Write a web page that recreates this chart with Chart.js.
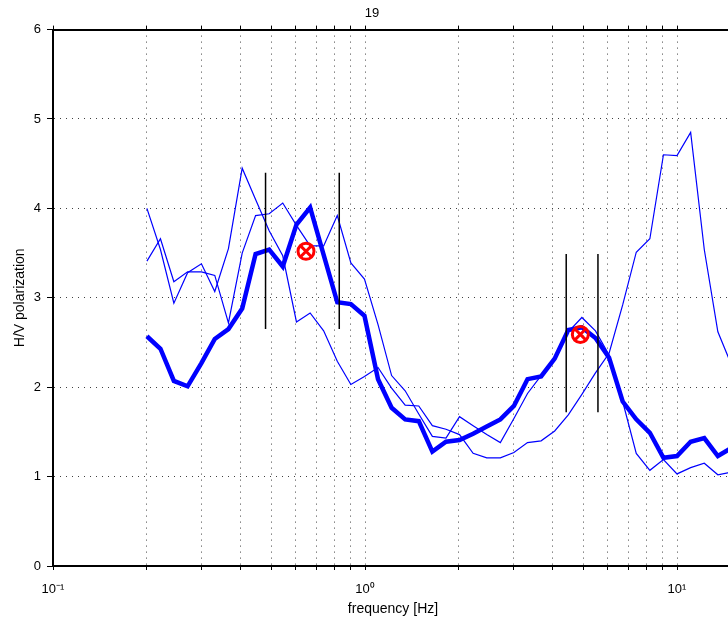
<!DOCTYPE html>
<html>
<head>
<meta charset="utf-8">
<script src="https://cdn.jsdelivr.net/npm/chart.js@4.4.1/dist/chart.umd.min.js"></script>
<style>
    html, body { margin: 0; background: #fff; overflow: hidden; }
    #hv-chart { display: block; }
</style>
</head>
<body>
<!-- the original figure is wider than the window and gets cut on the right -->
<canvas id="hv-chart" width="744" height="624"></canvas>
<script>
    // frequencies of the spectral estimates [Hz]
    var freqs = [0.200, 0.221, 0.244, 0.270, 0.299, 0.330, 0.365, 0.404, 0.446, 0.493,
        0.545, 0.603, 0.667, 0.737, 0.815, 0.901, 0.996, 1.101, 1.217, 1.345,
        1.487, 1.644, 1.818, 2.009, 2.221, 2.456, 2.715, 3.001, 3.318, 3.668,
        4.055, 4.483, 4.956, 5.479, 6.058, 6.697, 7.403, 8.185, 9.048, 10.00,
        11.06, 12.23, 13.52, 14.94];

    // mean H/V curve (thick)
    var hvMean = [2.57, 2.43, 2.07, 2.01, 2.27, 2.54, 2.65, 2.88, 3.49, 3.54,
        3.35, 3.82, 4.01, 3.48, 2.95, 2.93, 2.80, 2.09, 1.77, 1.64,
        1.62, 1.28, 1.39, 1.41, 1.48, 1.56, 1.64, 1.79, 2.09, 2.12,
        2.32, 2.64, 2.67, 2.55, 2.33, 1.84, 1.64, 1.49, 1.21, 1.23,
        1.39, 1.43, 1.23, 1.32];

    // single component curves (thin)
    var hvCompA = [4.00, 3.54, 2.94, 3.28, 3.38, 3.07, 3.55, 4.45, 4.10, 3.75,
        3.47, 2.73, 2.83, 2.63, 2.29, 2.03, 2.12, 2.22, 1.99, 1.80,
        1.79, 1.57, 1.53, 1.47, 1.26, 1.21, 1.21, 1.27, 1.38, 1.40,
        1.51, 1.69, 1.92, 2.16, 2.38, 2.92, 3.51, 3.66, 4.60, 4.59,
        4.85, 3.54, 2.62, 2.25];
    var hvCompB = [3.41, 3.66, 3.18, 3.29, 3.29, 3.25, 2.72, 3.50, 3.92, 3.94,
        4.06, 3.81, 3.58, 3.58, 3.92, 3.39, 3.21, 2.70, 2.13, 1.96,
        1.70, 1.45, 1.43, 1.67, 1.57, 1.47, 1.38, 1.65, 1.93, 2.13,
        2.33, 2.62, 2.78, 2.63, 2.36, 1.84, 1.26, 1.07, 1.19, 1.03,
        1.10, 1.15, 1.02, 1.05];

    // peak picks and their frequency limits
    var peakFreqs = [0.647, 4.90];
    var peakAmps = [3.52, 2.59];
    var limitFreqs = [0.48, 0.827, 4.415, 5.58];
    var limitLow = [2.65, 2.65, 1.72, 1.72];
    var limitHigh = [4.40, 4.40, 3.49, 3.49];

    var xTicks = [0.1, 0.2, 0.3, 0.4, 0.5, 0.6, 0.7, 0.8, 0.9,
        1, 2, 3, 4, 5, 6, 7, 8, 9, 10];
    var xTickLabels = { '0.1': '10\u207B\u00B9', '1': '10\u2070', '10': '10\u00B9' };
    var yTicks = [0, 1, 2, 3, 4, 5, 6];

    var PX_PER_DECADE = 312;

    function toXY(xs, ys) {
        return xs.map(function (x, i) { return { x: x, y: ys[i] }; });
    }

    var datasets = [
        {
            label: 'mean',
            data: toXY(freqs, hvMean),
            borderColor: '#0000ff',
            borderWidth: 4.5,
            pointRadius: 0,
            tension: 0,
            order: 2,
        },
        {
            label: 'A',
            data: toXY(freqs, hvCompA),
            borderColor: '#0000ff',
            borderWidth: 1.2,
            pointRadius: 0,
            tension: 0,
            order: 3,
        },
        {
            label: 'B',
            data: toXY(freqs, hvCompB),
            borderColor: '#0000ff',
            borderWidth: 1.2,
            pointRadius: 0,
            tension: 0,
            order: 3,
        },
    ];

    limitFreqs.forEach(function (f, i) {
        datasets.push({
            label: 'limit' + i,
            data: [{ x: f, y: limitLow[i] }, { x: f, y: limitHigh[i] }],
            borderColor: '#000000',
            borderWidth: 1.5,
            pointRadius: 0,
            order: 1,
        });
    });

    datasets.push({
        label: 'peak',
        data: toXY(peakFreqs, peakAmps),
        showLine: false,
        pointStyle: 'circle',
        pointRadius: 8,
        borderColor: '#ff0000',
        backgroundColor: 'rgba(0,0,0,0)',
        pointBorderWidth: 3,
        order: 0,
    });
    datasets.push({
        label: 'peakX',
        data: toXY(peakFreqs, peakAmps),
        showLine: false,
        pointStyle: 'crossRot',
        pointRadius: 8,
        borderColor: '#ff0000',
        pointBorderWidth: 3,
        order: 0,
    });

    var font = { family: "'Liberation Sans', Arial, sans-serif", size: 13 };

    function setLogTicks(scale) {
        scale.ticks = xTicks.map(function (v) { return { value: v }; });
    }

    var ctx = document.getElementById('hv-chart').getContext('2d');
    var chart = new Chart(ctx, {
        type: 'line',
        data: { datasets: datasets },
        options: {
            responsive: false,
            animation: false,
            devicePixelRatio: 1,
            layout: { padding: 0 },
            plugins: {
                legend: { display: false },
                tooltip: { enabled: false },
                title: {
                    display: true,
                    text: '19',
                    color: '#000',
                    font: { family: font.family, size: 13, weight: 'normal' },
                    padding: { top: 6, bottom: 4 },
                },
            },
            scales: {
                x: {
                    type: 'logarithmic',
                    position: 'bottom',
                    min: 0.1,
                    max: 15,
                    afterBuildTicks: setLogTicks,
                    afterFit: function (scale) { scale.height = 58; },
                    border: { display: true, color: '#000', width: 2, dash: [1, 5] },
                    grid: {
                        color: 'rgba(0,0,0,0.75)',
                        lineWidth: 1,
                        drawTicks: true,
                        tickLength: 4,
                        tickColor: '#000',
                        tickBorderDash: [],
                    },
                    ticks: {
                        autoSkip: false,
                        maxRotation: 0,
                        padding: 12,
                        color: '#000',
                        font: font,
                        callback: function (value) {
                            return xTickLabels[String(value)] || '';
                        },
                    },
                    title: {
                        display: true,
                        text: 'frequency [Hz]',
                        color: '#000',
                        font: { family: font.family, size: 14 },
                        padding: 6,
                    },
                },
                x2: {
                    type: 'logarithmic',
                    position: 'top',
                    min: 0.1,
                    max: 15,
                    afterBuildTicks: setLogTicks,
                    afterFit: function (scale) { scale.height = 4; },
                    border: { display: true, color: '#000', width: 2 },
                    grid: {
                        drawOnChartArea: false,
                        drawTicks: true,
                        tickLength: 4,
                        tickColor: '#000',
                    },
                    ticks: {
                        autoSkip: false,
                        maxRotation: 0,
                        callback: function () { return ''; },
                    },
                },
                y: {
                    type: 'linear',
                    position: 'left',
                    min: 0,
                    max: 6,
                    afterBuildTicks: function (scale) {
                        scale.ticks = yTicks.map(function (v) { return { value: v }; });
                    },
                    afterFit: function (scale) { scale.width = 53; },
                    border: { display: true, color: '#000', width: 2, dash: [1, 5] },
                    grid: {
                        color: function (c) {
                            return (c.tick && (c.tick.value === 0 || c.tick.value === 6)) ? 'rgba(0,0,0,0)' : 'rgba(0,0,0,0.75)';
                        },
                        tickColor: '#000',
                        tickLength: 6,
                        tickBorderDash: [],
                    },
                    ticks: {
                        padding: 6,
                        color: '#000',
                        font: font,
                    },
                    title: {
                        display: true,
                        text: 'H/V polarization',
                        color: '#000',
                        font: { family: font.family, size: 14 },
                        padding: 12,
                    },
                },
            },
        },
    });

    // keep one decade at the original figure's width
    var area = chart.chartArea;
    var xMax = 0.1 * Math.pow(10, (area.right - area.left) / PX_PER_DECADE);
    chart.options.scales.x.max = xMax;
    chart.options.scales.x2.max = xMax;
    chart.update();
</script>
</body>
</html>
